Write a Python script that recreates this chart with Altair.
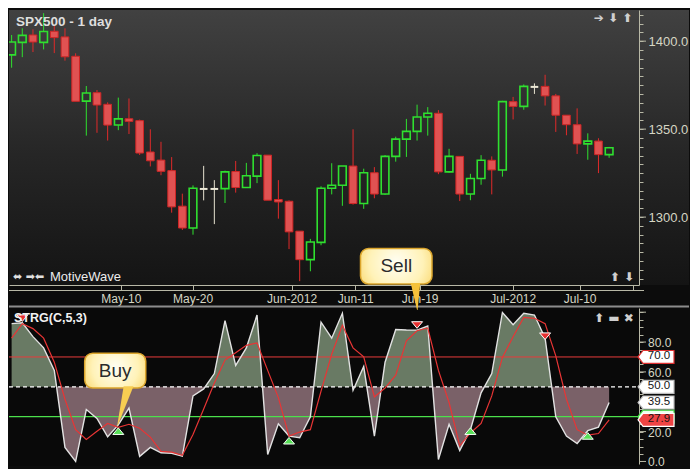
import altair as alt
import pandas as pd

# ---------------- data ----------------
bar_index = list(range(57))
open_px = [1392.2, 1399.3, 1403.5, 1399.3, 1405.6, 1402.4, 1391.4, 1365.9, 1370.7, 1364.1,
           1352.3, 1355.9, 1354.8, 1337.0, 1332.4, 1326.4, 1306.2, 1293.8, 1316.0, 1316.0,
           1316.2, 1325.9, 1316.8, 1323.3, 1335.2, 1310.0, 1309.0, 1292.0, 1275.8, 1285.6,
           1316.4, 1318.1, 1329.0, 1307.7, 1325.2, 1313.1, 1334.5, 1344.3, 1348.7, 1356.9,
           1359.0, 1325.7, 1334.5, 1313.1, 1321.9, 1332.3, 1326.8, 1365.6, 1362.9, 1374.0,
           1374.3, 1368.9, 1357.9, 1352.5, 1341.6, 1343.2, 1335.5]
close_px = [1399.5, 1403.3, 1399.5, 1405.5, 1402.0, 1391.1, 1365.8, 1370.5, 1363.7, 1352.3,
            1355.8, 1354.4, 1336.4, 1332.0, 1326.0, 1305.8, 1293.8, 1316.4, 1316.0, 1316.0,
            1325.7, 1316.8, 1323.5, 1335.0, 1309.6, 1308.6, 1291.6, 1275.8, 1285.8, 1316.4,
            1318.1, 1329.0, 1307.7, 1325.2, 1313.1, 1334.5, 1344.3, 1348.7, 1356.9, 1359.0,
            1325.7, 1334.5, 1313.1, 1321.9, 1332.3, 1326.8, 1365.6, 1362.9, 1374.3, 1374.0,
            1368.9, 1357.9, 1352.5, 1341.6, 1343.2, 1335.5, 1339.4]
high_px = [1403.5, 1407.3, 1406.7, 1415.9, 1408.9, 1407.3, 1393.1, 1374.5, 1372.2, 1365.2,
           1367.9, 1367.4, 1355.4, 1349.9, 1342.8, 1334.1, 1313.3, 1318.0, 1329.1, 1321.0,
           1326.4, 1331.9, 1330.8, 1336.3, 1335.2, 1321.0, 1309.5, 1292.0, 1287.6, 1317.5,
           1330.6, 1329.0, 1349.9, 1327.5, 1328.4, 1335.2, 1345.7, 1355.8, 1363.9, 1362.5,
           1360.8, 1338.8, 1334.5, 1324.6, 1335.2, 1334.5, 1366.1, 1368.3, 1375.4, 1376.0,
           1380.9, 1370.0, 1357.9, 1361.8, 1347.6, 1344.8, 1339.9]
low_px = [1384.9, 1390.9, 1393.8, 1395.3, 1393.2, 1388.9, 1365.8, 1346.3, 1347.9, 1343.5,
          1349.4, 1347.2, 1335.3, 1328.8, 1323.8, 1302.5, 1292.7, 1290.0, 1309.5, 1296.0,
          1308.0, 1313.9, 1316.8, 1319.3, 1309.6, 1299.1, 1281.8, 1263.6, 1269.2, 1284.0,
          1312.9, 1306.4, 1307.1, 1304.7, 1310.7, 1312.6, 1331.5, 1334.2, 1343.5, 1346.3,
          1324.4, 1325.2, 1309.1, 1309.6, 1318.4, 1312.9, 1323.0, 1355.5, 1361.0, 1370.0,
          1363.4, 1348.4, 1346.5, 1335.9, 1332.6, 1325.0, 1333.7]
strg_k = [92.3, 92.9, 83.6, 76.1, 61.0, 9.4, 0.0, 34.8, 28.8, 16.5,
          24.5, 35.7, 3.4, 9.4, 5.8, 5.5, 3.6, 43.9, 48.6, 58.9,
          94.3, 64.3, 76.1, 98.1, 4.7, 25.2, 17.0, 15.9, 29.9, 93.3,
          82.6, 99.3, 47.7, 63.6, 17.0, 66.5, 88.4, 88.1, 88.0, 90.7,
          1.3, 24.9, 7.3, 21.3, 46.0, 58.9, 99.8, 91.6, 99.3, 98.1,
          82.6, 29.9, 17.0, 12.0, 20.6, 23.0, 39.5]
strg_d = [82.6, 92.3, 89.0, 82.6, 66.5, 41.7, 21.3, 14.8, 20.2, 25.5,
          22.8, 24.9, 22.3, 16.3, 6.8, 6.2, 4.1, 18.1, 35.2, 52.5,
          67.9, 72.9, 77.8, 79.4, 61.0, 42.8, 17.0, 19.7, 21.3, 47.1,
          71.8, 91.2, 76.1, 70.1, 43.2, 49.2, 57.8, 80.8, 87.6, 89.4,
          61.0, 39.5, 10.5, 19.1, 25.5, 43.9, 69.7, 83.6, 96.5, 95.9,
          92.3, 70.7, 41.7, 21.3, 17.6, 18.7, 27.9]
sell_bars = [1, 38, 50]
sell_marks = [96.0, 91.4, 83.9]
buy_bars = [10, 26, 43, 54]
buy_marks = [20.3, 13.9, 20.3, 17.1]
date_tick_bars = [10.24, 16.96, 26.24, 32.2, 38.24, 46.96, 53.24, 58.2]
date_tick_labels = ["May-10", "May-20", "Jun-2012", "Jun-11", "Jun-19", "Jul-2012", "Jul-10", ""]
price_ticks = list(range(1265, 1420, 5))
price_major = [1300, 1350, 1400]
osc_ticks = list(range(0, 105, 5))
osc_major = [0, 20, 40, 60, 80, 100]
osc_labels = [0, 20, 60, 80]
level_hi, level_mid, level_lo = 70, 50, 30
tag_values = [70.0, 50.0, 39.5, 27.9]
tag_kinds = ["hi", "mid", "k", "d"]
# callouts (in data coordinates)
buy_box_x = [6.85, 12.57]
buy_box_y = [49.2, 72.5]
buy_ptr_base_x = [10.5, 11.42]
buy_ptr_tip = [9.9, 24.1]
sell_box_x = [32.7, 39.4]
sell_box_y = [1262.0, 1282.2]
sell_ptr_base_x = [37.4, 38.3]
sell_ptr_tip = [38.0, 101.5]

# ---------------- layout ----------------
W, H1, H2, GAP = 630, 275, 156, 23
FONT = "Liberation Sans"
AX = "#b8b8a6"
LAB = "#d6d6c4"

xscale = alt.Scale(domain=[-0.245, 58.8], nice=False, zero=False)
pscale = alt.Scale(domain=[1261.4, 1417.7], nice=False, zero=False)
oscale = alt.Scale(domain=[-1.7, 102.8], nice=False, zero=False)

x_label_expr = "".join(
    f"abs(datum.value - {p}) < 0.01 ? '{lab}' : " for p, lab in zip(date_tick_bars, date_tick_labels)
) + "''"
xaxis = alt.Axis(values=date_tick_bars, labelExpr=x_label_expr, orient="bottom", title=None,
                 grid=False, domainColor=AX, tickColor=AX, tickSize=5, labelColor=LAB,
                 labelFont=FONT, labelFontSize=12, labelPadding=3, labelOverlap=False,
                 labelFlush=False)
paxis = alt.Axis(values=price_ticks, orient="right", title=None, grid=False, zindex=1,
                 labelExpr="datum.value % 50 === 0 ? format(datum.value, '.1f') : ''",
                 tickSize=4, domainColor=AX, tickColor=AX, labelColor=LAB, labelFont=FONT,
                 labelFontSize=13, labelPadding=5, labelOverlap=False, labelFlush=False)
oaxis = alt.Axis(values=osc_ticks, orient="right", title=None, grid=False, zindex=0,
                 labels=False, tickSize=4, domainColor=AX, tickColor=AX)


def TX(field):
    return alt.X(field, type="quantitative", scale=xscale, axis=xaxis)


def BX(field):
    return alt.X(field, type="quantitative", scale=xscale, axis=None)


def PY(field):
    return alt.Y(field, type="quantitative", scale=pscale, axis=paxis)


def OY(field):
    return alt.Y(field, type="quantitative", scale=oscale, axis=oaxis)


one = pd.DataFrame({"a": [0]})

# ---------------- tables ----------------
cdf = pd.DataFrame({"i": bar_index, "o": open_px, "h": high_px, "l": low_px, "c": close_px})
cdf["kind"] = ["up" if c > o else ("down" if c < o else "doji") for o, c in zip(open_px, close_px)]
cdf["top"] = cdf[["o", "c"]].max(axis=1)
cdf["bot"] = cdf[["o", "c"]].min(axis=1)
cdf["xl"] = cdf["i"] - 0.36
cdf["xr"] = cdf["i"] + 0.36

odf = pd.DataFrame({"i": bar_index, "k": strg_k, "d": strg_d})
fill_rows = []
for n in range(len(bar_index)):
    fill_rows.append((bar_index[n], strg_k[n]))
    if n + 1 < len(bar_index):
        a, b = strg_k[n], strg_k[n + 1]
        if (a - level_mid) * (b - level_mid) < 0:
            fill_rows.append((bar_index[n] + (level_mid - a) / (b - a), float(level_mid)))
fdf = pd.DataFrame(fill_rows, columns=["i", "v"])
fdf["up"] = fdf["v"].clip(lower=level_mid)
fdf["dn"] = fdf["v"].clip(upper=level_mid)
fdf["mid"] = float(level_mid)

sell_df = pd.DataFrame({"i": sell_bars, "v": sell_marks})
buy_df = pd.DataFrame({"i": buy_bars, "v": buy_marks})
olab_df = pd.DataFrame({"p": [float(v) for v in osc_labels],
                        "t": [f"{v:.1f}" for v in osc_labels]})

kind_scale = alt.Scale(domain=["up", "down", "doji"], range=["#2fe02f", "#e02a2a", "#e6e2d0"])

# ---------------- styles ----------------
top_grad = alt.LinearGradient(gradient="linear", x1=0, x2=0, y1=0, y2=1,
                              stops=[alt.GradientStop(color="#414141", offset=0),
                                     alt.GradientStop(color="#272727", offset=0.5),
                                     alt.GradientStop(color="#141414", offset=1)])
bubble = alt.RadialGradient(gradient="radial", x1=0.5, y1=0.45, r1=0, x2=0.5, y2=0.45, r2=0.75,
                            stops=[alt.GradientStop(color="#fffef4", offset=0),
                                   alt.GradientStop(color="#fff2b8", offset=0.5),
                                   alt.GradientStop(color="#f6c844", offset=1)])

# ---------------- top panel ----------------
t_bg = alt.Chart(one).mark_rect(fill=top_grad).encode(
    x=alt.value(0), x2=alt.value(W + 50), y=alt.value(0), y2=alt.value(H1))
t_line2 = alt.Chart(one).mark_rule(color=AX, strokeWidth=1).encode(
    x=alt.value(0), x2=alt.value(W + 5), y=alt.value(H1 + 5.5))
p_major = alt.Chart(pd.DataFrame({"p": price_major})).mark_rule(color=AX, strokeWidth=1).encode(
    x=alt.value(W), x2=alt.value(W + 7), y=PY("p"))
wick_up = alt.Chart(cdf).mark_rule(strokeWidth=1, clip=True).encode(
    x=TX("i"), y=PY("h"), y2="top", color=alt.Color("kind:N", scale=kind_scale, legend=None))
wick_dn = alt.Chart(cdf).mark_rule(strokeWidth=1, clip=True).encode(
    x=TX("i"), y=PY("bot"), y2="l", color=alt.Color("kind:N", scale=kind_scale, legend=None))
body_dn = alt.Chart(cdf).transform_filter("datum.kind == 'down'").mark_rect(
    fill="#e05252", stroke="#cf2626", strokeWidth=1, clip=True).encode(
    x=TX("xl"), x2="xr", y=PY("o"), y2="c")
body_up = alt.Chart(cdf).transform_filter("datum.kind == 'up'").mark_rect(
    fill="transparent", stroke="#2fe02f", strokeWidth=1.6, clip=True).encode(
    x=TX("xl"), x2="xr", y=PY("o"), y2="c")
body_doji = alt.Chart(cdf).transform_filter("datum.kind == 'doji'").mark_rule(
    color="#ece8d6", strokeWidth=2, clip=True).encode(x=TX("xl"), x2="xr", y=PY("o"))

sbox_df = pd.DataFrame({"x0": [sell_box_x[0]], "x1": [sell_box_x[1]],
                        "y0": [sell_box_y[0]], "y1": [sell_box_y[1]],
                        "xc": [sum(sell_box_x) / 2], "yc": [sum(sell_box_y) / 2]})
sell_box = alt.Chart(sbox_df).mark_rect(cornerRadius=8, fill=bubble, stroke="#dba52c",
                                        strokeWidth=1.5).encode(
    x=TX("x0"), x2="x1", y=PY("y0"), y2="y1")
sell_txt = alt.Chart(sbox_df).mark_text(text="Sell", font=FONT, fontSize=19, color="#2b2b2b").encode(
    x=TX("xc"), y=PY("yc"))

title_txt = alt.Chart(one).mark_text(text="SPX500 - 1 day", font=FONT, fontSize=13.5,
                                     fontWeight="bold", color="#dedede", align="left",
                                     baseline="middle").encode(x=alt.value(7), y=alt.value(12))
mw_icons = alt.Chart(one).mark_text(text="⬌ ➡⬅", font="DejaVu Sans", fontSize=11,
                                    color="#e0e0e0", align="left", baseline="middle").encode(
    x=alt.value(4), y=alt.value(267))
mw_txt = alt.Chart(one).mark_text(text="MotiveWave", font=FONT, fontSize=13, color="#ececec",
                                  align="left", baseline="middle").encode(
    x=alt.value(41), y=alt.value(267))
tr_icons = alt.Chart(one).mark_text(text="➔ ⬇ ⬆", font="DejaVu Sans", fontSize=12,
                                    fontWeight="bold", color="#cfcfcf", align="center",
                                    baseline="middle").encode(x=alt.value(604), y=alt.value(8))
br_icons = alt.Chart(one).mark_text(text="⬆ ⬇", font="DejaVu Sans", fontSize=12,
                                    fontWeight="bold", color="#cfcfcf", align="center",
                                    baseline="middle").encode(x=alt.value(613), y=alt.value(267))

top = alt.layer(t_bg, t_line2, p_major, wick_up, wick_dn, body_dn, body_up, body_doji,
                sell_box, sell_txt, title_txt, mw_icons, mw_txt, tr_icons, br_icons).properties(
    width=W, height=H1)

# ---------------- bottom panel ----------------
b_bg = alt.Chart(one).mark_rect(fill="#090909").encode(
    x=alt.value(0), x2=alt.value(W), y=alt.value(0), y2=alt.value(H2 + 2))
sep = alt.Chart(one).mark_rule(color="#8c8c8c", strokeWidth=2).encode(
    x=alt.value(0), x2=alt.value(W + 50), y=alt.value(-1.5))
o_major = alt.Chart(pd.DataFrame({"p": osc_major})).mark_rule(color=AX, strokeWidth=1).encode(
    x=alt.value(W), x2=alt.value(W + 7), y=OY("p"))
o_labels = alt.Chart(olab_df).mark_text(font=FONT, fontSize=12, color=LAB, align="left",
                                        baseline="middle", dy=1).encode(
    x=alt.value(W + 9), y=OY("p"), text="t:N")
fill_up = alt.Chart(fdf).mark_area(color="#697a64", opacity=1).encode(
    x=BX("i"), y=OY("up"), y2="mid")
fill_dn = alt.Chart(fdf).mark_area(color="#7a6168", opacity=1).encode(
    x=BX("i"), y=OY("dn"), y2="mid")
lv_hi = alt.Chart(pd.DataFrame({"lv": [level_hi]})).mark_rule(color="#e83c3c", strokeWidth=1).encode(
    x=alt.value(0), x2=alt.value(W), y=OY("lv"))
lv_mid = alt.Chart(pd.DataFrame({"lv": [level_mid]})).mark_rule(
    color="#ffffff", strokeWidth=1.2, strokeDash=[4, 3]).encode(
    x=alt.value(0), x2=alt.value(W), y=OY("lv"))
lv_lo = alt.Chart(pd.DataFrame({"lv": [level_lo]})).mark_rule(color="#4ce04c", strokeWidth=1.2).encode(
    x=alt.value(0), x2=alt.value(W + 4), y=OY("lv"))
k_line = alt.Chart(odf).mark_line(color="#e2e2e2", strokeWidth=1.4).encode(x=BX("i"), y=OY("k"))
d_line = alt.Chart(odf).mark_line(color="#e83535", strokeWidth=1.2).encode(x=BX("i"), y=OY("d"))
sell_pts = alt.Chart(sell_df).mark_point(shape="M -1 -0.6 L 1 -0.6 L 0 0.6 Z", size=121,
                                         filled=True, fill="#e83030", stroke="#ffffff",
                                         strokeWidth=1, opacity=1).encode(x=BX("i"), y=OY("v"))
buy_pts = alt.Chart(buy_df).mark_point(shape="M -1 0.6 L 1 0.6 L 0 -0.6 Z", size=121,
                                       filled=True, fill="#58e058", stroke="#f4fff4",
                                       strokeWidth=1, opacity=1).encode(x=BX("i"), y=OY("v"))

bbox_df = pd.DataFrame({"x0": [buy_box_x[0]], "x1": [buy_box_x[1]],
                        "y0": [buy_box_y[0]], "y1": [buy_box_y[1]],
                        "xc": [sum(buy_box_x) / 2], "yc": [sum(buy_box_y) / 2]})
buy_box = alt.Chart(bbox_df).mark_rect(cornerRadius=8, fill=bubble, stroke="#dba52c",
                                       strokeWidth=1.5).encode(
    x=BX("x0"), x2="x1", y=OY("y0"), y2="y1")
buy_ptr_df = pd.DataFrame({"v": [buy_box_y[0] + 1.2, buy_ptr_tip[1]],
                           "xl": [buy_ptr_base_x[0], buy_ptr_tip[0]],
                           "xr": [buy_ptr_base_x[1], buy_ptr_tip[0] + 0.05]})
buy_ptr = alt.Chart(buy_ptr_df).mark_area(orient="horizontal", color="#f7cd52", opacity=1).encode(
    y=OY("v"), x=BX("xl"), x2="xr")
buy_txt = alt.Chart(bbox_df).mark_text(text="Buy", font=FONT, fontSize=19, color="#2b2b2b").encode(
    x=BX("xc"), y=OY("yc"))
sell_ptr_df = pd.DataFrame({"v": [119.5, sell_ptr_tip[1]],
                            "xl": [sell_ptr_base_x[0], sell_ptr_tip[0]],
                            "xr": [sell_ptr_base_x[1], sell_ptr_tip[0] + 0.05]})
sell_ptr = alt.Chart(sell_ptr_df).mark_area(orient="horizontal", color="#f5c23a", opacity=1,
                                            clip=False).encode(
    y=OY("v"), x=BX("xl"), x2="xr")

tag_df = pd.DataFrame({"v": [float(level_lo)] + tag_values, "kind": ["lo"] + tag_kinds,
                       "label": [""] + [f"{t:.1f}" for t in tag_values]})
tag_fill = alt.Scale(domain=["lo", "hi", "mid", "k", "d"],
                     range=["#eaffea", "#ffffff", "#ffffff", "#ffffff", "#ee4444"])
tag_stroke = alt.Scale(domain=["lo", "hi", "mid", "k", "d"],
                       range=["#44dd44", "#e03030", "#bdbdbd", "#bdbdbd", "#ffffff"])
tag_box = alt.Chart(tag_df).mark_point(
    shape="M -1 0 L -0.72 -0.36 L 1 -0.36 L 1 0.36 L -0.72 0.36 Z", size=1296, filled=True,
    strokeWidth=1.2, opacity=1).encode(
    x=alt.value(W + 17), y=OY("v"),
    fill=alt.Fill("kind:N", scale=tag_fill, legend=None),
    stroke=alt.Stroke("kind:N", scale=tag_stroke, legend=None))
tag_txt = alt.Chart(tag_df[tag_df["label"] != ""]).mark_text(
    font=FONT, fontSize=11.5, color="#151515", align="center", baseline="middle", dy=-0.5).encode(
    x=alt.value(W + 20), y=OY("v"), text="label:N")

strg_txt = alt.Chart(one).mark_text(text="STRG(C,5,3)", font=FONT, fontSize=12.5, fontWeight="bold",
                                    color="#f2f2f2", align="left", baseline="middle").encode(
    x=alt.value(5), y=alt.value(10))
b_icons = alt.Chart(one).mark_text(text="⬆ ▬ ✖", font="DejaVu Sans", fontSize=12,
                                   fontWeight="bold", color="#cfcfcf", align="center",
                                   baseline="middle").encode(x=alt.value(605), y=alt.value(10))

bottom = alt.layer(b_bg, sep, o_major, fill_up, fill_dn, lv_hi, lv_mid, lv_lo,
                   k_line, d_line, sell_pts, buy_pts, buy_box, buy_ptr, buy_txt, sell_ptr,
                   tag_box, tag_txt, strg_txt, b_icons, o_labels).properties(width=W, height=H2)

chart = alt.vconcat(top, bottom, spacing=GAP, bounds="flush").configure(
    background="#0c0c0c", padding=0).configure_view(stroke=None)

chart.save("out.html", embed_options={"renderer": "svg", "actions": False})
